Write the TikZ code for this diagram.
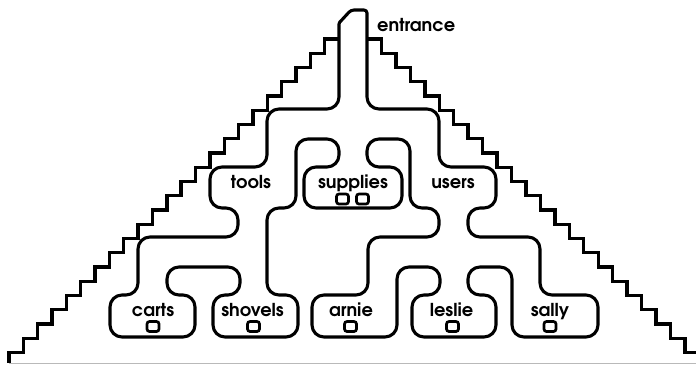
\documentclass[tikz,border=0pt]{standalone}
\usepackage{fontspec}
\setmainfont{TeX Gyre Adventor}
\begin{document}
\begin{tikzpicture}[x=1pt,y=-1pt,
  wall/.style={line width=3.1pt, line join=round, line cap=round},
  rock/.style={line width=3.4pt, line join=miter, line cap=butt},
  roomname/.style={font=\fontsize{17.8}{18}\selectfont\bfseries, anchor=base, inner sep=0pt},
  slot/.style={draw, line width=2.7pt, rounded corners=2.5pt, minimum width=12pt, minimum height=10pt, inner sep=0pt}]
\useasboundingbox (0,0) rectangle (696,365);

% ground line
\draw[gray!55, line width=1.4pt] (9,363.5) -- (696,363.5);

% stepped hillside, left and right of the shaft
\coordinate (hillL) at (339,39);
\coordinate (hillR) at (367,39);
\draw[rock] (hillL) \foreach \k in {0,...,21} { -- ++(-14.35,0) -- ++(0,14.25) } -- ++(-14.35,0) -- ++(0,10.5);
\draw[rock] (hillR) \foreach \k in {0,...,21} { -- ++(14.45,0) -- ++(0,14.25) } -- ++(14.45,0) -- ++(0,10.5);

% tunnel walls: shaft, corridors and rooms as one outline
\draw[wall, rounded corners=12pt]
  (339,60) -- (339,109) -- (267,109) -- (267,167) -- (210,167) -- (210,208)
  -- (238,208) -- (238,237) -- (138,237) -- (138,295) -- (110,295) -- (110,337)
  -- (195,337) -- (195,295) -- (167,295) -- (167,267) -- (240,267) -- (240,295)
  -- (213,295) -- (213,337) -- (298,337) -- (298,295) -- (267,295) -- (267,208)
  -- (296,208) -- (296,139) -- (339,139) -- (339,167) -- (304,167) -- (304,208)
  -- (402,208) -- (402,167) -- (367,167) -- (367,139) -- (410,139) -- (410,208)
  -- (439,208) -- (439,237) -- (368,237) -- (368,295) -- (312,295) -- (312,337)
  -- (397,337) -- (397,267) -- (440,267) -- (440,295) -- (412,295) -- (412,337)
  -- (496,337) -- (496,295) -- (468,295) -- (468,267) -- (512,267) -- (512,337)
  -- (598,337) -- (598,295) -- (540,295) -- (540,237) -- (468,237) -- (468,208)
  -- (496,208) -- (496,167) -- (439,167) -- (439,109) -- (367,109)
  [rounded corners=3pt] -- (367,10) -- (351,10) [rounded corners=1pt] -- (339,23) -- cycle;

% room names
\node[roomname, anchor=base west] (entr) at (377,31) {entrance};
\node[roomname] (tools) at (251,188) {tools};
\node[roomname] (supplies) at (353,188) {supplies};
\node[roomname] (users) at (453,188) {users};
\node[roomname] (carts) at (153,316.5) {carts};
\node[roomname] (shovels) at (252.5,316.5) {shovels};
\node[roomname] (arnie) at (351,316.5) {arnie};
\node[roomname] (leslie) at (451.5,316.5) {leslie};
\node[roomname] (sally) at (550,316.5) {sally};

% stored items
\node[slot] (supp1) at (342.5,199) {};
\node[slot] (supp2) at (362.5,199) {};
\node[slot] (cartsbox) at (153,326.5) {};
\node[slot] (shovelsbox) at (253.5,326.5) {};
\node[slot] (arniebox) at (350.5,326.5) {};
\node[slot] (lesliebox) at (452.5,326.5) {};
\node[slot] (sallybox) at (550,326.5) {};
\end{tikzpicture}
\end{document}
